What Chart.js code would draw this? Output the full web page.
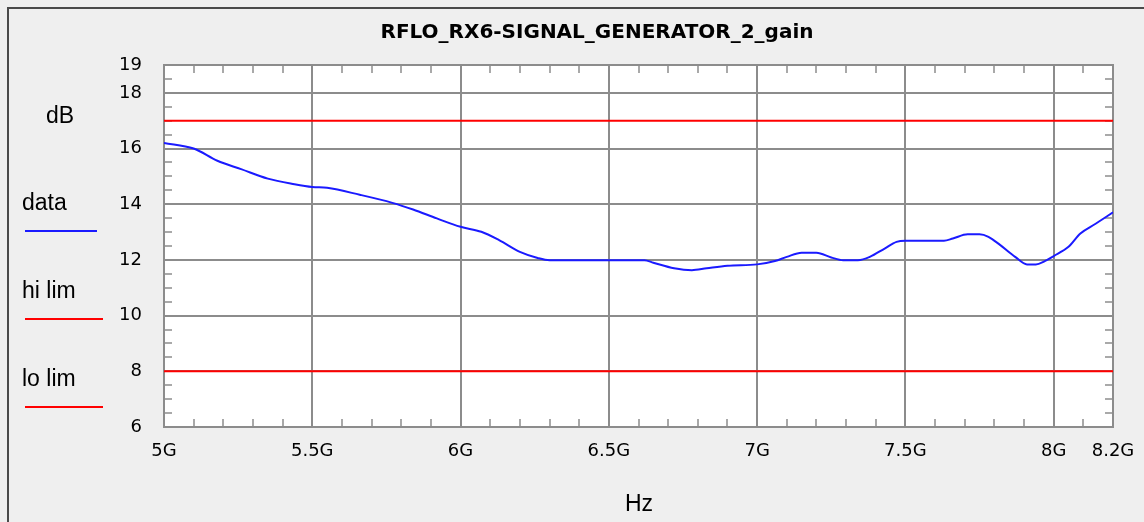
<!DOCTYPE html>
<html>
<head>
<meta charset="utf-8">
<script src="https://cdn.jsdelivr.net/npm/chart.js@4.4.0/dist/chart.umd.min.js"></script>
<style>
  html, body { margin: 0; padding: 0; background: #efefef; overflow: hidden; }
  canvas { display: block; }
</style>
</head>
<body>
<canvas id="chart" width="1144" height="522"></canvas>
<script>
const freqs = [5.0, 5.1, 5.18, 5.26, 5.35, 5.44, 5.5, 5.55, 5.66, 5.77,
  5.84, 5.92, 6.0, 6.07, 6.13, 6.2, 6.26, 6.3, 6.62, 6.65,
  6.72, 6.78, 6.83, 6.9, 7.0, 7.06, 7.1, 7.15, 7.2, 7.25,
  7.29, 7.34, 7.38, 7.43, 7.47, 7.5, 7.63, 7.66, 7.71, 7.75,
  7.78, 7.82, 7.87, 7.91, 7.94, 7.97, 8.0, 8.05, 8.09, 8.14, 8.2];
const gains = [16.2, 16.0, 15.56, 15.26, 14.92, 14.72, 14.62, 14.59, 14.34, 14.05,
  13.81, 13.49, 13.19, 13.01, 12.71, 12.29, 12.07, 11.99, 11.99, 11.9,
  11.7, 11.63, 11.7, 11.79, 11.84, 11.96, 12.11, 12.26, 12.26, 12.09,
  11.99, 11.99, 12.11, 12.41, 12.65, 12.69, 12.69, 12.77, 12.92, 12.92,
  12.83, 12.53, 12.11, 11.84, 11.84, 11.96, 12.14, 12.47, 12.95, 13.29, 13.71];

const hiLim = 17;
const loLim = 8;
const xRange = [5, 8.2];
const yRange = [6, 19];

const xMajorTicks = [5, 5.5, 6, 6.5, 7, 7.5, 8, 8.2];
const xTickLabels = ['5G', '5.5G', '6G', '6.5G', '7G', '7.5G', '8G', '8.2G'];
const yMajorTicks = [6, 8, 10, 12, 14, 16, 18, 19];
const yTickLabels = ['6', '8', '10', '12', '14', '16', '18', '19'];
const xMinorStep = 0.1;
const yMinorStep = 0.5;

const gridGray = '#8c8c8c';

function stepTicks(min, max, step) {
  const n = Math.round((max - min) / step);
  const out = [];
  for (let i = 0; i <= n; i++) out.push(+(min + i * step).toFixed(3));
  return out;
}
function majorIndex(list, v) {
  return list.findIndex(m => Math.abs(m - v) < 1e-6);
}

const xAll = stepTicks(xRange[0], xRange[1], xMinorStep);
const yAll = stepTicks(yRange[0], yRange[1], yMinorStep);

// shared look for every axis: minor tick marks pointing into the plot
function axis(position, range, all, majors, labels, size, main) {
  const horizontal = position === 'top' || position === 'bottom';
  return {
    type: 'linear',
    position: position,
    min: range[0],
    max: range[1],
    afterBuildTicks: s => { s.ticks = all.map(v => ({ value: v })); },
    afterFit: s => {
      // fixed box sizes so the plot lands where the original one is
      if (horizontal) s.height = size; else s.width = size;
      s.paddingLeft = s.paddingRight = s.paddingTop = s.paddingBottom = 0;
    },
    grid: {
      drawOnChartArea: main,
      color: c => (c.tick && majorIndex(majors, c.tick.value) >= 0) ? gridGray : 'rgba(0,0,0,0)',
      lineWidth: 2,
      drawTicks: true,
      tickLength: -8,
      tickColor: gridGray,
      tickWidth: 1.5
    },
    border: { display: true, color: gridGray, width: 2 },
    ticks: {
      display: main,
      autoSkip: false,
      maxRotation: 0,
      minRotation: 0,
      padding: horizontal ? 22 : 30,
      color: '#000',
      font: { family: 'DejaVu Sans', size: 18 },
      callback: v => {
        const i = majorIndex(majors, v);
        return i >= 0 ? labels[i] : '';
      }
    }
  };
}

const decorations = {
  id: 'decorations',
  beforeDraw(chart) {
    const { ctx, chartArea: a } = chart;
    ctx.save();
    ctx.fillStyle = '#efefef';
    ctx.fillRect(0, 0, chart.width, chart.height);
    ctx.fillStyle = '#ffffff';
    ctx.fillRect(a.left, a.top, a.right - a.left, a.bottom - a.top);
    ctx.restore();
  },
  afterDraw(chart) {
    const ctx = chart.ctx;
    ctx.save();

    // window frame (only top and left edges are in view)
    ctx.fillStyle = '#4a4a4a';
    ctx.fillRect(7, 7, 2, chart.height - 7);
    ctx.fillRect(7, 7, chart.width - 7, 2);

    // title
    ctx.fillStyle = '#000';
    ctx.textAlign = 'center';
    ctx.textBaseline = 'alphabetic';
    ctx.font = 'bold 20px "DejaVu Sans"';
    ctx.fillText('RFLO_RX6-SIGNAL_GENERATOR_2_gain', 597, 38);

    // axis titles
    ctx.font = '23px "Liberation Sans"';
    ctx.textAlign = 'left';
    ctx.fillText('dB', 46, 123);
    ctx.fillText('Hz', 625, 511);

    // legend down the left side
    chart.data.datasets.forEach((ds, i) => {
      const base = 210 + i * 88;
      ctx.fillStyle = '#000';
      ctx.fillText(ds.label, 22, base);
      ctx.strokeStyle = ds.borderColor;
      ctx.lineWidth = 2;
      ctx.beginPath();
      ctx.moveTo(25, base + 21);
      ctx.lineTo(i === 0 ? 97 : 103, base + 21);
      ctx.stroke();
    });
    ctx.restore();
  }
};

new Chart(document.getElementById('chart'), {
  type: 'line',
  data: {
    datasets: [
      {
        label: 'data',
        data: freqs.map((f, i) => ({ x: f, y: gains[i] })),
        borderColor: '#1a1aff',
        borderWidth: 2,
        pointRadius: 0,
        cubicInterpolationMode: 'monotone',
        fill: false
      },
      {
        label: 'hi lim',
        data: xRange.map(f => ({ x: f, y: hiLim })),
        borderColor: '#ff0000',
        borderWidth: 2,
        pointRadius: 0,
        fill: false
      },
      {
        label: 'lo lim',
        data: xRange.map(f => ({ x: f, y: loLim })),
        borderColor: '#ff0000',
        borderWidth: 2,
        pointRadius: 0,
        fill: false
      }
    ]
  },
  options: {
    responsive: false,
    animation: false,
    layout: { padding: 0 },
    plugins: {
      legend: { display: false },
      tooltip: { enabled: false },
      title: { display: false }
    },
    scales: {
      x: axis('bottom', xRange, xAll, xMajorTicks, xTickLabels, 95, true),
      x2: axis('top', xRange, xAll, xMajorTicks, xTickLabels, 65, false),
      y: axis('left', yRange, yAll, yMajorTicks, yTickLabels, 164, true),
      y2: axis('right', yRange, yAll, yMajorTicks, yTickLabels, 31, false)
    }
  },
  plugins: [decorations]
});
</script>
</body>
</html>
